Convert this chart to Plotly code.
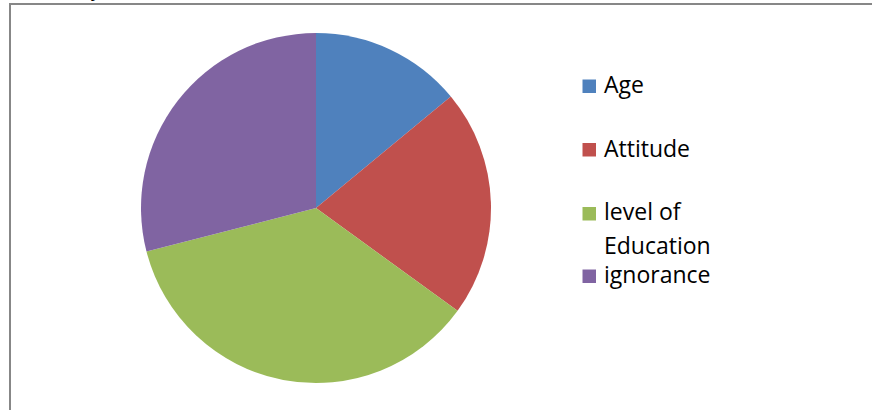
import plotly.graph_objects as go

labels = ["Age", "Attitude", "level of Education", "ignorance"]
legend_lines = [["Age"], ["Attitude"], ["level of", "Education"], ["ignorance"]]
values = [14, 21, 36, 29]
colors = ["#4F81BD", "#C0504D", "#9BBB59", "#8064A2"]

W, H = 872, 410


def px(x):
    return x / W


def py(y):
    return 1 - y / H


fig = go.Figure()
fig.add_trace(go.Pie(
    labels=labels,
    values=values,
    sort=False,
    direction="clockwise",
    rotation=0,
    marker=dict(colors=colors, line=dict(width=0)),
    textinfo="none",
    hoverinfo="label+value",
    showlegend=False,
    domain=dict(x=[px(141), px(491)], y=[py(383), py(33)]),
))

shapes = [
    dict(type="line", xref="paper", yref="paper", x0=px(10), x1=px(10), y0=py(4), y1=py(420),
         line=dict(color="#878787", width=2)),
    dict(type="line", xref="paper", yref="paper", x0=px(9), x1=px(880), y0=py(4), y1=py(4),
         line=dict(color="#878787", width=2)),
]
annotations = [
    dict(text="<i>y</i>", xref="paper", yref="paper", x=px(97), y=py(3), xanchor="center", yanchor="bottom",
         showarrow=False, font=dict(family="Liberation Serif", size=22, color="#000000")),
]

# legend (square tops and text baselines in pixels)
square_tops = [79.5, 143, 207, 269.5]
baselines = [[93.3], [156.7], [220, 253.5], [283]]
for i, lines in enumerate(legend_lines):
    t = square_tops[i]
    shapes.append(dict(type="rect", xref="paper", yref="paper",
                       x0=px(582.5), x1=px(596), y0=py(t + 13.5), y1=py(t),
                       fillcolor=colors[i], line=dict(width=0)))
    for line, b in zip(lines, baselines[i]):
        annotations.append(dict(text=line, xref="paper", yref="paper", x=px(602), y=py(b - 9),
                                xanchor="left", yanchor="middle", showarrow=False,
                                font=dict(family="Open Sans", size=23, color="#000000")))

fig.update_layout(
    width=W, height=H,
    margin=dict(l=0, r=0, t=0, b=0),
    paper_bgcolor="white",
    plot_bgcolor="white",
    shapes=shapes,
    annotations=annotations,
)

fig.write_html("out.html", config={"displayModeBar": False},
               post_script="document.body.style.margin='0px';document.body.style.overflow='hidden';")
